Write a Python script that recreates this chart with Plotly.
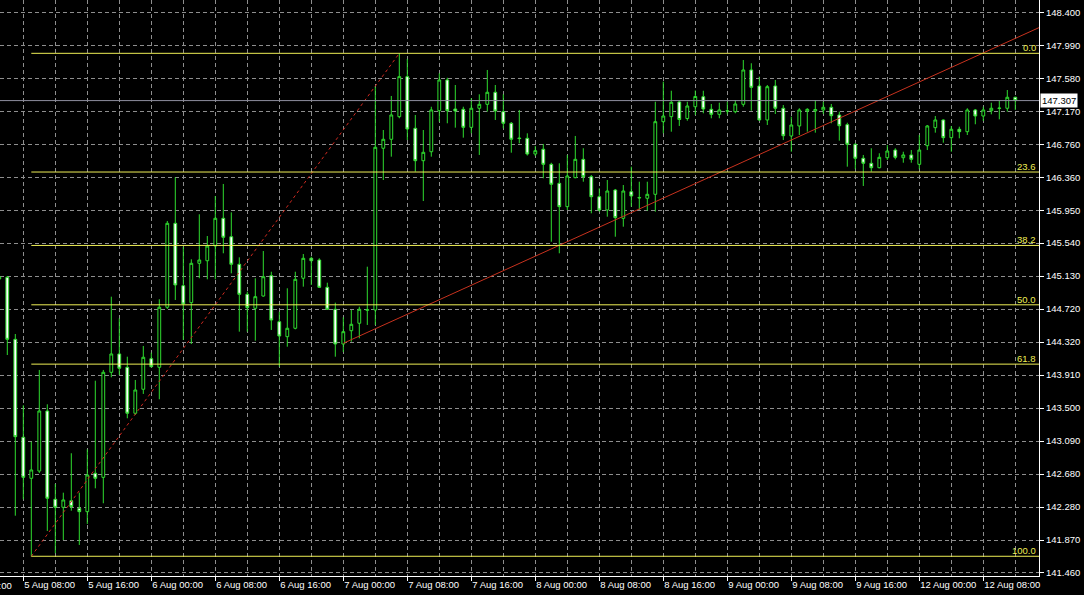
import numpy as np
import pandas as pd
import plotly.graph_objects as go

# ---------------- data (H1 bars, weekend collapsed like the terminal) ----------------
bar_times = (list(pd.date_range("2024-08-05 05:00", "2024-08-09 23:00", freq="h")) +
             list(pd.date_range("2024-08-12 00:00", "2024-08-12 12:00", freq="h")))

opens = [145.099, 145.120, 144.352, 143.140, 142.632, 142.722, 143.465, 142.372, 142.273, 142.355,
         142.261, 142.219, 142.694, 142.644, 143.944, 144.171, 144.006, 143.437, 143.734, 144.112,
         144.006, 144.749, 145.788, 145.016, 144.806, 145.293, 145.325, 145.507, 145.850, 145.622,
         145.281, 144.909, 144.736, 144.888, 145.140, 144.570, 144.385, 144.489, 145.108, 145.355,
         145.334, 144.996, 144.724, 144.294, 144.459, 144.551, 144.711, 144.715, 146.717, 146.828,
         147.108, 147.603, 146.964, 146.563, 146.674, 147.182, 147.562, 147.203, 147.199, 146.976,
         147.212, 147.261, 147.410, 147.170, 147.026, 146.844, 146.840, 146.646, 146.705, 146.518,
         146.283, 145.994, 146.353, 146.580, 146.365, 146.117, 145.953, 146.200, 145.850, 146.179,
         146.108, 146.098, 146.147, 147.046, 147.108, 147.290, 147.085, 147.231, 147.355, 147.199,
         147.137, 147.176, 147.170, 147.261, 147.686, 147.488, 147.067, 147.488, 147.212, 146.869,
         146.993, 147.178, 147.178, 147.191, 147.224, 147.129, 147.009, 146.766, 146.593, 146.531,
         146.476, 146.600, 146.695, 146.600, 146.634, 146.518, 146.749, 146.972, 147.067, 146.848,
         146.952, 146.922, 147.191, 147.116, 147.182, 147.209, 147.212, 147.348]

highs = [145.210, 145.136, 144.418, 143.536, 143.085, 143.973, 143.548, 142.562, 142.454, 142.942,
         142.454, 142.991, 143.840, 143.973, 144.880, 144.612, 144.137, 143.849, 144.270, 144.187,
         144.848, 145.817, 146.358, 145.499, 145.343, 145.900, 145.631, 146.126, 146.275, 145.924,
         145.367, 144.942, 145.108, 145.445, 145.189, 144.694, 144.984, 145.189, 145.408, 145.375,
         145.355, 145.053, 144.806, 144.625, 144.715, 144.756, 145.251, 147.479, 146.943, 147.364,
         147.892, 147.822, 147.129, 146.943, 147.231, 147.645, 147.590, 147.500, 147.231, 147.335,
         147.385, 147.686, 147.500, 147.385, 147.042, 147.191, 146.902, 146.745, 146.770, 146.538,
         146.531, 146.634, 146.869, 146.717, 146.386, 146.221, 146.324, 146.213, 146.262, 146.489,
         146.303, 146.303, 147.293, 147.541, 147.429, 147.314, 147.293, 147.432, 147.429, 147.265,
         147.281, 147.293, 147.314, 147.809, 147.769, 147.603, 147.500, 147.562, 147.252, 147.108,
         147.212, 147.212, 147.314, 147.293, 147.265, 147.170, 147.033, 146.778, 146.634, 146.717,
         146.655, 146.757, 146.717, 146.674, 146.695, 146.881, 147.005, 147.116, 147.075, 146.993,
         146.984, 147.212, 147.203, 147.231, 147.281, 147.306, 147.438, 147.355]

lows = [145.025, 144.158, 142.169, 142.372, 141.667, 142.698, 141.980, 141.704, 141.868, 142.231,
        141.807, 142.067, 142.508, 142.323, 143.882, 143.911, 143.375, 143.416, 143.676, 144.006,
        143.610, 144.728, 144.839, 144.344, 144.294, 145.108, 145.095, 145.095, 145.417, 145.169,
        144.447, 144.447, 144.335, 144.880, 144.468, 144.013, 144.261, 144.476, 145.004, 145.025,
        144.987, 144.715, 144.137, 144.195, 144.323, 144.365, 144.530, 144.530, 146.324, 146.613,
        147.088, 146.819, 146.427, 146.064, 146.613, 147.046, 147.026, 146.972, 146.848, 146.902,
        146.634, 147.170, 147.067, 146.964, 146.662, 146.778, 146.627, 146.621, 146.345, 145.560,
        145.417, 145.953, 146.345, 146.303, 145.912, 145.932, 145.870, 145.622, 145.746, 145.994,
        145.953, 145.944, 145.932, 146.902, 146.922, 146.993, 147.058, 147.129, 147.150, 147.088,
        147.088, 147.137, 147.150, 147.231, 147.182, 147.058, 147.005, 147.141, 146.819, 146.674,
        146.881, 146.922, 146.910, 147.141, 147.026, 146.811, 146.489, 146.457, 146.250, 146.427,
        146.469, 146.572, 146.580, 146.538, 146.538, 146.457, 146.695, 146.910, 146.786, 146.674,
        146.840, 146.881, 147.014, 147.054, 147.137, 147.075, 147.170, 147.191]

closes = [145.124, 144.352, 143.147, 142.644, 142.735, 143.465, 142.385, 142.273, 142.364, 142.281,
          142.219, 142.673, 142.632, 143.944, 144.171, 143.994, 143.437, 143.725, 144.130, 144.013,
          144.749, 145.788, 145.025, 144.789, 145.293, 145.334, 145.507, 145.850, 145.615, 145.281,
          144.909, 144.744, 144.880, 145.127, 144.591, 144.393, 144.489, 145.095, 145.355, 145.325,
          144.996, 144.724, 144.294, 144.447, 144.538, 144.724, 144.719, 146.729, 146.828, 147.129,
          147.603, 146.955, 146.563, 146.667, 147.191, 147.562, 147.182, 147.178, 146.976, 147.212,
          147.261, 147.410, 147.178, 147.026, 146.828, 146.837, 146.646, 146.687, 146.518, 146.271,
          145.994, 146.374, 146.580, 146.365, 146.117, 145.953, 146.188, 145.858, 146.188, 146.126,
          146.103, 146.147, 147.046, 147.116, 147.286, 147.073, 147.240, 147.358, 147.203, 147.137,
          147.191, 147.181, 147.265, 147.686, 147.471, 147.067, 147.479, 147.212, 146.872, 147.005,
          147.191, 147.199, 147.197, 147.224, 147.120, 146.996, 146.766, 146.593, 146.531, 146.476,
          146.605, 146.683, 146.605, 146.634, 146.580, 146.695, 146.993, 147.067, 146.848, 146.952,
          146.922, 147.191, 147.116, 147.191, 147.212, 147.214, 147.348, 147.307]

current_price = 147.307
current_price_text = "147.307"

# time-axis labels
time_tick_times = ["2024-08-05 00:00", "2024-08-05 08:00", "2024-08-05 16:00", "2024-08-06 00:00",
                   "2024-08-06 08:00", "2024-08-06 16:00", "2024-08-07 00:00", "2024-08-07 08:00",
                   "2024-08-07 16:00", "2024-08-08 00:00", "2024-08-08 08:00", "2024-08-08 16:00",
                   "2024-08-09 00:00", "2024-08-09 08:00", "2024-08-09 16:00", "2024-08-12 00:00",
                   "2024-08-12 08:00"]

# price-axis labels
price_tick_labels = ["141.460", "141.870", "142.280", "142.680", "143.090", "143.500", "143.910",
                     "144.320", "144.720", "145.130", "145.540", "145.950", "146.360", "146.760",
                     "147.170", "147.580", "147.990", "148.400"]

# Fibonacci retracement anchors
fib_low_time, fib_low = "2024-08-05 09:00", 141.667
fib_high_time, fib_high = "2024-08-07 07:00", 147.892
fib_levels = [0.0, 23.6, 38.2, 50.0, 61.8, 100.0]
fib_level_text = ["0.0", "23.6", "38.2", "50.0", "61.8", "100.0"]

# trend line anchors
trend_t1, trend_p1 = "2024-08-07 00:00", 144.303
trend_t2, trend_p2 = "2024-08-08 03:00", 145.516

# ---------------- helpers ----------------
x = np.arange(len(bar_times))
t0 = bar_times[0]
time_index = {t: i for i, t in enumerate(bar_times)}


def pos(ts):
    t = pd.Timestamp(ts)
    if t in time_index:
        return time_index[t]
    return (t - t0) / pd.Timedelta(hours=1)


x_lo, x_hi = 0.0875, 129.9625
y_lo, y_hi = 141.4228, 148.552

major_pos = [pos(t) for t in time_tick_times]
major_txt = [f"{pd.Timestamp(t).day} {pd.Timestamp(t):%b %H:%M}" for t in time_tick_times]
minor_pos = [p + 4 for p in major_pos]

price_tickvals = np.linspace(float(price_tick_labels[0]), float(price_tick_labels[-1]),
                             len(price_tick_labels))

FONT = "Liberation Sans"
FS = 9.5
GREEN = "#2fdc2f"
GRID = "#8e8e8e"
FIB = "#eeee55"

fig = go.Figure()

fig.add_trace(go.Candlestick(
    x=x, open=opens, high=highs, low=lows, close=closes,
    increasing=dict(line=dict(color=GREEN, width=1), fillcolor="black"),
    decreasing=dict(line=dict(color=GREEN, width=1), fillcolor="white"),
    whiskerwidth=0, showlegend=False,
    text=[f"{t:%d %b %H:%M}" for t in bar_times], hoverinfo="text+y",
))

# Fibonacci diagonal (dotted)
fl, fh = pos(fib_low_time), pos(fib_high_time)
fig.add_trace(go.Scatter(x=[fl, fh], y=[fib_low, fib_high], mode="lines",
                         line=dict(color="#d02a20", width=1, dash="dot"),
                         hoverinfo="skip", showlegend=False))

# trend line (ray to the right)
a1, a2 = pos(trend_t1), pos(trend_t2)
slope = (trend_p2 - trend_p1) / (a2 - a1)
fig.add_trace(go.Scatter(x=[a1, x_hi], y=[trend_p1, trend_p1 + slope * (x_hi - a1)], mode="lines",
                         line=dict(color="#c8321e", width=1),
                         hoverinfo="skip", showlegend=False))

shapes = []
annotations = []
rng = fib_high - fib_low
for lvl, txt in zip(fib_levels, fib_level_text):
    yv = fib_high - lvl / 100.0 * rng
    shapes.append(dict(type="line", xref="x", yref="y", x0=fl, x1=x_hi, y0=yv, y1=yv,
                       line=dict(color=FIB, width=1)))
    annotations.append(dict(xref="paper", yref="y", x=1, y=yv, xanchor="right", yanchor="bottom",
                            xshift=-1, yshift=-2, text=txt, showarrow=False,
                            font=dict(family=FONT, size=FS, color=FIB)))

# current price line + label
shapes.append(dict(type="line", xref="x", yref="y", x0=x_lo, x1=x_hi, y0=current_price,
                   y1=current_price, line=dict(color="#8e8e9e", width=1)))
annotations.append(dict(xref="paper", yref="y", x=1, y=current_price, xanchor="left",
                        yanchor="middle", xshift=1, text=current_price_text, showarrow=False,
                        bgcolor="white", borderpad=1,
                        font=dict(family=FONT, size=FS, color="black")))

# first (partially hidden) time label
first_frac = (major_pos[0] - x_lo) / (x_hi - x_lo)
annotations.append(dict(xref="paper", yref="paper", x=first_frac, y=0, xanchor="left",
                        yanchor="top", yshift=-2, text=major_txt[0], showarrow=False,
                        font=dict(family=FONT, size=FS, color="white")))

fig.update_layout(
    width=1084, height=595,
    margin=dict(l=0, r=45, t=0, b=19, autoexpand=False),
    paper_bgcolor="black", plot_bgcolor="black",
    showlegend=False, boxgap=0.5,
    shapes=shapes, annotations=annotations,
    hovermode="closest",
    xaxis=dict(range=[x_lo, x_hi], rangeslider=dict(visible=False), automargin=False,
               tickmode="array", tickvals=major_pos[1:], ticktext=major_txt[1:], tickangle=0,
               ticks="outside", ticklen=4, tickcolor="white", tickwidth=1,
               ticklabelposition="outside right",
               tickfont=dict(family=FONT, size=FS, color="white"),
               showline=True, linecolor="white", linewidth=1,
               showgrid=True, gridcolor=GRID, griddash="4px,3px", gridwidth=1,
               zeroline=False, fixedrange=True,
               minor=dict(tickmode="array", tickvals=minor_pos, showgrid=True, gridcolor=GRID,
                          griddash="4px,3px", gridwidth=1, ticks="")),
    yaxis=dict(side="right", range=[y_lo, y_hi], automargin=False,
               tickmode="array", tickvals=price_tickvals, ticktext=price_tick_labels,
               ticks="outside", ticklen=4, tickcolor="white", tickwidth=1,
               tickfont=dict(family=FONT, size=FS, color="white"),
               showline=True, linecolor="white", linewidth=1,
               showgrid=True, gridcolor=GRID, griddash="4px,3px", gridwidth=1,
               zeroline=False, fixedrange=True),
)

fig.write_html("out.html", config={"displayModeBar": False},
               post_script="document.body.style.margin='0';document.body.style.background='black';")
